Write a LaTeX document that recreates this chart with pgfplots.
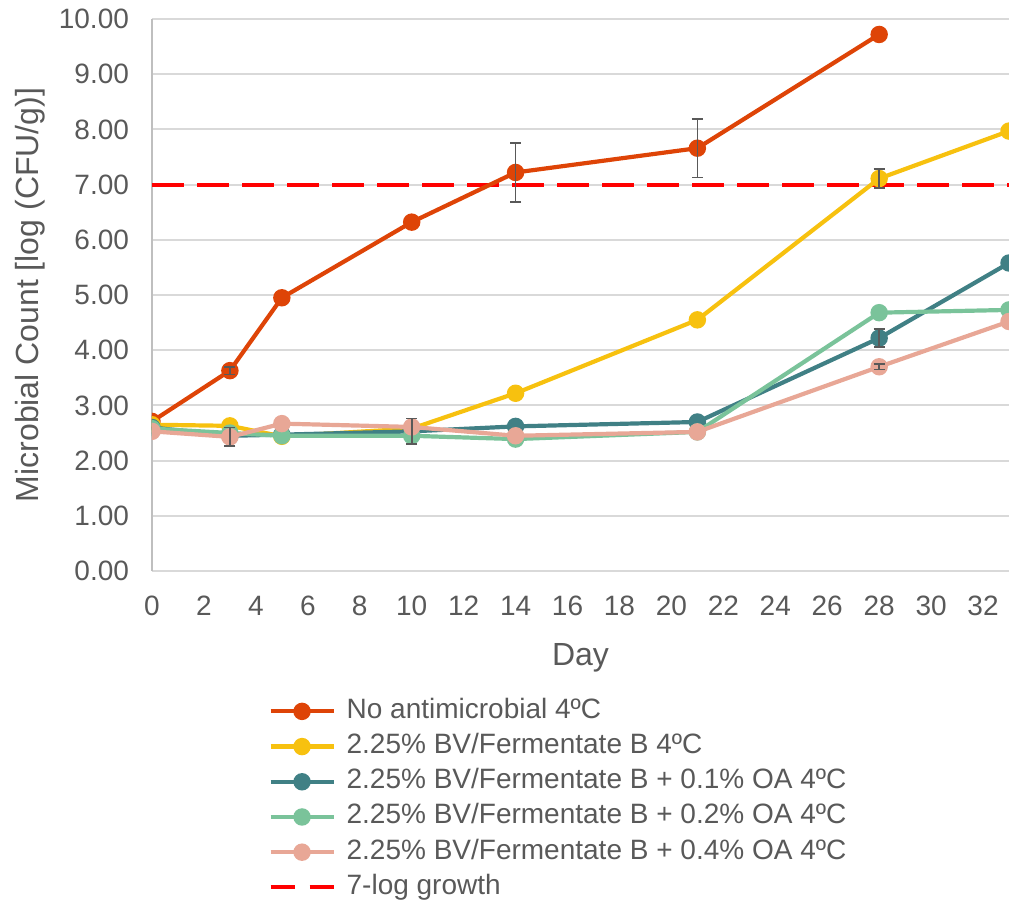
\documentclass[border=0pt]{standalone}
\usepackage{fontspec}
\setmainfont{Liberation Sans}
\usepackage{pgfplots}
\usepackage{pgfplotstable}
\pgfplotsset{compat=1.18}
\definecolor{cRed}{RGB}{222,68,7}
\definecolor{cYel}{RGB}{247,193,15}
\definecolor{cTeal}{RGB}{64,128,133}
\definecolor{cGreen}{RGB}{122,195,154}
\definecolor{cPink}{RGB}{232,167,150}
\definecolor{txt}{RGB}{89,89,89}
\definecolor{grd}{RGB}{217,217,217}

\pgfplotstableread{
x y e
0 2.71 0
3 3.63 0.07
5 4.95 0
10 6.32 0
14 7.22 0.53
21 7.66 0.53
28 9.72 0
}\tRed
\pgfplotstableread{
x y e
0 2.65 0
3 2.63 0
5 2.44 0
10 2.58 0
14 3.22 0
21 4.55 0
28 7.11 0.17
33 7.97 0
}\tYel
\pgfplotstableread{
x y e
0 2.60 0
3 2.45 0
5 2.47 0
10 2.53 0.23
14 2.62 0
21 2.70 0
28 4.22 0.16
33 5.58 0
}\tTeal
\pgfplotstableread{
x y e
0 2.58 0
3 2.50 0
5 2.45 0
10 2.45 0
14 2.39 0
21 2.52 0
28 4.68 0
33 4.73 0
}\tGreen
\pgfplotstableread{
x y e
0 2.53 0
3 2.43 0.17
5 2.67 0
10 2.61 0
14 2.45 0
21 2.52 0
28 3.70 0.05
33 4.52 0
}\tPink
\pgfplotstableread{
x y e
3 3.63 0.07
14 7.22 0.53
21 7.66 0.53
28 7.11 0.17
10 2.53 0.23
28 4.22 0.16
3 2.43 0.17
28 3.70 0.05
}\tErr

\begin{document}
\begin{tikzpicture}
\begin{axis}[
  name=ax,
  scale only axis,
  width=428.5pt, height=276pt,
  xmin=0, xmax=33, ymin=0, ymax=10,
  xtick={0,2,...,32},
  ytick={0,1,...,10},
  axis x line*=bottom, axis y line*=left,
  x axis line style={-, draw=grd, line width=1pt},
  y axis line style={-, draw=black!25, line width=1pt},
  major tick length=0pt,
  ymajorgrids,
  grid style={draw=grd, line width=1pt},
  ticklabel style={font=\fontsize{14}{16}\selectfont, text=txt},
  /pgf/number format/assume math mode=true,
  yticklabel style={/pgf/number format/fixed, /pgf/number format/fixed zerofill, /pgf/number format/precision=2, xshift=-8pt},
  xticklabel style={yshift=-9pt},
  xlabel={Day},
  ylabel={Microbial Count [log (CFU/g)]},
  label style={font=\fontsize{16}{19}\selectfont, text=txt},
  xlabel style={at={(axis description cs:0.5,-0.158)}, anchor=center},
  ylabel style={at={(axis description cs:-0.142,0.5)}, anchor=center, rotate=0},
  clip marker paths=true,
  legend style={at={(axis description cs:0.1354,-0.23)}, anchor=north west,
    draw=none, fill=none, inner sep=0pt,
    font=\fontsize{14}{16}\selectfont, text=txt,
    nodes={inner sep=0pt, text height=10pt, text depth=3pt},
    row sep=4.6pt},
  legend cell align=left,
  legend image code/.code={\draw[mark repeat=2, mark phase=2, #1] plot coordinates {(0pt,0pt) (15.75pt,0pt) (31.5pt,0pt)}; \path (37pt,0pt);},
  every axis plot/.append style={line width=2.1pt, mark=*, mark size=3.3pt},
]
\addplot[red, line width=2.1pt, dash pattern=on 16pt off 6.5pt, mark=none, forget plot] coordinates {(0,7) (33,7)};
\addplot[cRed, mark options={fill=cRed, draw=cRed}] table[x=x,y=y] {\tRed};
\addlegendentry{No antimicrobial 4ºC}
\addplot[cYel, mark options={fill=cYel, draw=cYel}] table[x=x,y=y] {\tYel};
\addlegendentry{2.25\% BV/Fermentate B 4ºC}
\addplot[cTeal, mark options={fill=cTeal, draw=cTeal}] table[x=x,y=y] {\tTeal};
\addlegendentry{2.25\% BV/Fermentate B + 0.1\% OA 4ºC}
\addplot[cGreen, mark options={fill=cGreen, draw=cGreen}] table[x=x,y=y] {\tGreen};
\addlegendentry{2.25\% BV/Fermentate B + 0.2\% OA 4ºC}
\addplot[cPink, mark options={fill=cPink, draw=cPink}] table[x=x,y=y] {\tPink};
\addlegendentry{2.25\% BV/Fermentate B + 0.4\% OA 4ºC}
\addplot[draw=none, mark=none, forget plot,
  error bars/.cd, y dir=both, y explicit,
  error bar style={draw=txt, line width=0.8pt},
  error mark options={draw=txt, rotate=90, mark size=2.75pt, line width=0.8pt}]
  table[x=x, y=y, y error=e] {\tErr};
\addlegendimage{red, line width=2.1pt, dash pattern=on 12pt off 7.5pt, mark=none}
\addlegendentry{7-log growth}
\end{axis}
\pgfresetboundingbox
\path ([xshift=-76pt,yshift=-165pt]ax.south west) rectangle ([yshift=9.5pt]ax.north east);
\end{tikzpicture}
\end{document}
